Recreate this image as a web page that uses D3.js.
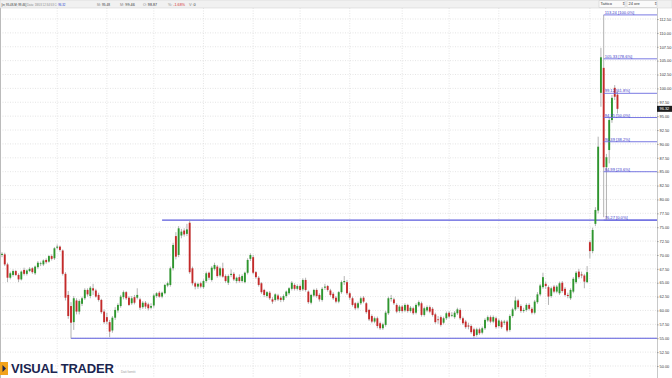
<!DOCTYPE html>
<html lang="it">
<head>
<meta charset="UTF-8">
<title>Visual Trader</title>
<script src="https://cdn.jsdelivr.net/npm/d3@7"></script>
<style>
    body { margin: 0; background: #fff; }
    svg { display: block; font-family: "Liberation Sans", Arial, sans-serif; }
    .axis path { stroke: #c8c8c8; }
    .axis line { stroke: #999; }
    .axis text { font-size: 3.9px; fill: #333; }
</style>
</head>
<body>
<script>
// daily candles
const opens = [
70.0,70.1,68.3,65.9,66.4,67.1,66.4,65.6,67.3,66.6,
67.1,67.6,66.7,67.8,68.4,68.3,69.1,68.8,69.8,69.4,
71.3,71.5,70.8,66.6,62.8,60.8,57.9,61.8,59.8,61.2,
62.2,63.7,62.6,64.0,63.6,62.8,61.9,59.8,58.8,57.9,
56.4,58.7,60.0,60.8,62.4,63.3,62.3,61.3,62.4,62.3,
62.0,60.6,61.4,61.1,60.5,60.9,62.6,63.2,62.5,63.1,
64.5,64.6,67.6,73.4,70.0,73.5,74.4,73.8,75.8,67.6,
64.9,64.3,64.9,64.2,65.3,66.8,65.5,67.5,67.9,66.3,
67.6,66.2,65.0,66.4,66.6,65.3,66.0,65.3,65.1,66.8,
69.3,69.6,66.9,65.9,64.9,63.7,62.6,63.2,62.0,61.9,
62.7,62.3,61.9,62.6,63.1,63.9,64.6,63.9,64.4,63.8,
65.5,63.4,61.4,62.7,63.7,62.8,61.9,64.1,64.4,63.6,
63.0,62.3,61.6,63.3,65.1,65.1,63.1,62.2,61.3,60.5,
61.3,62.3,61.3,60.1,59.0,58.0,58.6,57.7,56.8,57.4,
59.5,62.1,62.0,61.0,59.9,60.7,60.0,61.0,59.9,60.4,
59.6,60.9,61.3,59.2,60.0,60.6,60.3,59.3,58.4,58.8,
57.8,58.6,59.6,59.1,58.8,59.5,60.1,58.6,58.0,57.3,
57.2,56.6,55.6,56.6,56.0,56.8,58.2,58.8,58.0,58.6,
57.2,58.0,57.8,58.0,56.5,59.0,60.2,61.8,60.8,59.9,
60.1,61.0,60.3,59.6,61.5,62.9,64.2,64.8,64.2,62.6,
64.3,63.4,63.1,65.0,63.9,62.8,62.2,63.4,65.1,67.0,
66.5,66.3,65.1,72.3,70.7,75.6,78.0,99.2,103.7,85.8,
88.9,94.3,100.1,98.87
];
const highs = [
70.5,70.4,68.6,67.0,67.4,67.3,66.7,67.2,67.7,67.4,
67.8,67.8,68.1,68.9,68.8,69.2,69.4,70.0,70.1,71.4,
71.9,71.7,71.0,66.9,63.5,61.5,62.6,62.2,62.0,62.5,
64.0,64.0,64.4,64.8,63.9,63.2,62.1,60.2,59.6,58.3,
59.0,60.6,61.3,62.8,63.6,63.5,62.6,62.6,62.8,64.0,
62.3,61.7,61.7,61.4,61.3,63.0,63.3,63.5,63.4,64.8,
65.2,67.9,72.2,74.1,75.2,74.7,74.8,75.6,76.3,67.9,
65.2,65.0,65.2,65.6,67.0,67.0,68.0,68.6,68.2,67.9,
68.6,66.5,66.5,67.4,66.9,66.1,66.5,66.5,67.0,69.4,
70.3,70.0,67.1,66.2,65.1,63.9,63.5,63.5,62.4,63.1,
63.0,62.6,62.9,63.6,64.2,65.3,64.9,64.7,64.7,65.8,
65.9,63.6,63.0,63.9,64.0,63.1,64.2,64.8,64.6,63.9,
63.3,62.6,63.5,65.4,66.2,65.5,63.4,62.5,61.5,61.6,
62.5,62.6,61.5,60.3,59.3,58.9,58.9,58.0,57.8,59.9,
62.5,62.8,62.3,61.3,61.0,61.0,61.3,61.2,60.8,60.7,
61.3,61.8,61.6,60.7,60.9,60.9,60.6,59.6,59.0,59.1,
58.9,59.8,59.9,59.7,59.9,60.5,60.4,58.9,58.3,57.8,
57.5,56.9,56.9,56.9,57.1,58.6,59.1,59.1,59.1,58.9,
58.5,58.3,58.3,58.3,59.3,60.5,62.5,62.1,61.1,60.5,
61.3,61.3,60.6,61.9,63.3,64.8,66.8,65.2,64.5,64.3,
64.6,64.6,65.2,65.3,64.2,63.2,64.0,66.0,67.1,67.5,
67.0,66.6,68.0,72.6,74.9,78.6,91.3,107.3,113.24,88.2,
94.8,98.8,100.6,99.46
];
const lows = [
69.6,68.0,65.1,65.6,66.1,66.2,65.1,65.4,66.3,66.3,
66.9,66.6,66.4,67.5,68.0,68.0,68.4,68.6,69.0,69.1,
71.0,70.6,66.3,61.8,58.5,55.0,56.5,59.3,59.3,60.8,
61.9,62.5,62.2,62.8,62.3,61.6,59.4,57.6,57.5,55.2,
56.0,58.3,59.6,60.5,62.0,61.9,60.8,61.0,61.1,62.0,
60.1,60.3,60.3,60.0,60.2,60.5,62.3,62.3,62.2,62.9,
64.2,64.3,67.2,69.2,69.6,73.0,73.3,73.4,66.6,64.5,
63.8,63.9,64.0,63.9,65.0,65.5,65.2,67.2,65.9,66.0,
65.9,65.0,64.6,66.0,65.3,64.9,65.0,65.0,64.9,66.5,
68.9,66.5,65.7,64.3,63.0,62.4,62.3,61.9,61.2,61.6,
61.7,61.5,61.6,62.3,62.8,63.6,63.6,63.6,63.4,63.5,
63.4,61.2,61.1,62.4,62.3,61.6,61.6,63.7,63.4,62.5,
61.9,61.3,61.3,63.0,64.6,62.8,61.9,60.7,60.1,60.2,
61.0,61.3,59.4,58.1,57.7,57.7,56.8,56.5,56.5,57.1,
59.2,61.6,61.0,59.5,59.6,59.6,59.7,59.6,59.6,59.2,
59.3,60.6,58.9,58.9,59.7,59.5,58.9,57.6,57.6,57.1,
57.5,58.3,58.6,58.8,58.5,59.2,58.3,57.4,56.7,56.6,
55.8,55.0,55.3,55.6,55.7,56.5,57.9,57.7,57.7,56.7,
56.9,56.7,57.4,56.1,56.2,58.7,59.9,60.3,59.6,59.6,
59.8,60.0,59.3,59.3,61.2,62.6,63.9,63.9,61.0,62.3,
63.1,63.1,62.8,63.2,62.5,62.2,61.9,63.1,64.8,65.7,
65.8,64.0,64.9,69.4,70.3,75.2,77.5,96.7,76.8,76.27,
86.5,93.8,97.9,95.48
];
const closes = [
70.2,68.3,65.9,66.7,67.1,66.4,65.6,67.0,66.6,67.2,
67.5,66.9,67.9,68.6,68.5,69.0,68.7,69.8,69.3,71.2,
71.5,70.9,66.6,62.3,59.0,57.8,62.2,59.8,61.7,62.2,
63.7,62.9,64.1,63.6,62.5,61.9,59.7,57.9,58.0,56.2,
58.7,60.1,61.0,62.5,63.3,62.2,61.0,62.2,61.4,62.8,
60.5,61.4,60.7,60.4,60.8,62.7,63.1,62.5,63.2,64.6,
64.9,67.6,71.8,69.7,74.8,74.2,73.7,74.6,66.9,64.9,
64.3,64.8,64.3,65.3,66.7,65.9,67.7,68.2,66.2,67.6,
66.1,65.3,66.2,66.6,65.6,65.9,65.3,66.2,66.8,69.1,
70.0,66.8,66.0,64.6,63.3,62.8,63.3,62.2,61.6,62.9,
62.0,61.9,62.6,63.4,64.0,65.0,63.9,64.4,63.7,65.5,
63.7,61.5,62.8,63.7,62.6,62.0,63.9,64.3,63.7,62.8,
62.2,61.6,63.3,65.1,65.3,63.1,62.3,61.0,60.4,61.3,
62.2,61.6,59.7,58.4,58.0,58.6,57.2,56.8,57.5,59.6,
62.2,62.2,61.3,59.8,60.7,59.9,61.0,59.9,60.5,59.5,
61.0,61.5,59.2,60.4,60.6,59.8,59.2,57.9,58.3,57.4,
58.6,59.5,58.9,59.2,59.6,60.2,58.6,57.7,57.0,57.1,
56.1,55.4,56.6,55.9,56.8,58.3,58.8,58.0,58.8,57.0,
58.2,57.0,58.0,56.4,59.0,60.2,61.8,60.6,59.9,60.1,
61.0,60.3,59.6,61.6,62.9,64.5,66.0,64.4,62.5,64.0,
63.4,64.3,64.9,63.5,62.8,62.6,63.7,65.7,66.8,66.0,
66.3,65.2,66.9,70.7,74.5,78.1,89.5,105.6,85.8,87.6,
94.3,98.3,98.5,96.32
];

// candle index where the month separators fall
const monthBreaks = [20, 38, 55, 73, 91, 108, 126, 145, 162, 180, 197, 213];
// price axis ticks
const priceTicks = d3.range(50, 112.51, 2.5);
// fibonacci tool anchors
const fibHigh = 113.24, fibLow = 76.27, fibFrom = 218;
const fibRatios = [1, 0.786, 0.618, 0.5, 0.382, 0.236, 0];
// horizontal support / resistance lines: level and starting candle
const hLevels = [76.27, 55.0];
const hStarts = [58, 25];
const lastPrice = 96.32;

const W = 672, H = 378;
const plotRight = 657, plotTop = 8;
const n = closes.length;
const step = 2.76;
const x0 = 2 - step / 2;

const svg = d3.select("body").append("svg").attr("width", W).attr("height", H);

const xScale = d3.scaleBand()
    .domain(d3.range(n))
    .range([x0, x0 + n * step])
    .paddingInner(0.32)
    .paddingOuter(0.16);
const cx = i => xScale(i) + xScale.bandwidth() / 2;

const yScale = d3.scaleLinear().domain([50, 112.5]).range([366, 19]);

// grid
svg.append("g").selectAll("line").data(priceTicks).enter().append("line")
    .attr("x1", 0).attr("x2", plotRight)
    .attr("y1", d => yScale(d)).attr("y2", d => yScale(d))
    .attr("stroke", "#d4d4d4").attr("stroke-width", 0.6).attr("stroke-dasharray", "1,1.5");
svg.append("g").selectAll("line").data(monthBreaks).enter().append("line")
    .attr("x1", d => cx(d)).attr("x2", d => cx(d))
    .attr("y1", plotTop).attr("y2", H)
    .attr("stroke", "#d4d4d4").attr("stroke-width", 0.6).attr("stroke-dasharray", "1,1.5");

svg.append("line").attr("x1", 0.5).attr("x2", 0.5).attr("y1", plotTop).attr("y2", H)
    .attr("stroke", "#bbb");

// long horizontal lines
svg.append("g").selectAll("line").data(hLevels).enter().append("line")
    .attr("x1", (d, i) => cx(hStarts[i])).attr("x2", plotRight)
    .attr("y1", d => yScale(d)).attr("y2", d => yScale(d))
    .attr("stroke", "#5b5bdc").attr("stroke-width", 1.2);

// candles
const idx = d3.range(n);
svg.append("g").selectAll("line").data(idx).enter().append("line")
    .attr("x1", i => cx(i)).attr("x2", i => cx(i))
    .attr("y1", i => yScale(highs[i])).attr("y2", i => yScale(lows[i]))
    .attr("stroke", "#a0a0a0").attr("stroke-width", 0.8);
svg.append("g").selectAll("rect").data(idx).enter().append("rect")
    .attr("x", i => xScale(i))
    .attr("width", xScale.bandwidth())
    .attr("y", i => yScale(Math.max(opens[i], closes[i])))
    .attr("height", i => Math.max(0.8, Math.abs(yScale(opens[i]) - yScale(closes[i]))))
    .attr("fill", i => closes[i] >= opens[i] ? "#2e962e" : "#c42a2a");

// fibonacci levels
const fib = fibRatios.map(r => ({ r: r, v: fibLow + r * (fibHigh - fibLow) }));
const fg = svg.append("g");
fg.selectAll("line").data(fib).enter().append("line")
    .attr("x1", cx(fibFrom)).attr("x2", plotRight)
    .attr("y1", d => yScale(d.v)).attr("y2", d => yScale(d.v))
    .attr("stroke", "#6b6be0").attr("stroke-width", 0.9);
fg.selectAll("text").data(fib).enter().append("text")
    .attr("x", cx(fibFrom) + 1).attr("y", d => yScale(d.v) - 0.8)
    .attr("font-size", 4.1).attr("fill", "#3c3cc8")
    .text(d => d.v.toFixed(2) + " [" + (d.r * 100).toFixed(1) + "%]");

// right price axis
svg.append("rect").attr("x", plotRight).attr("y", plotTop).attr("width", W - plotRight).attr("height", H - plotTop)
    .attr("fill", "#fff");
svg.append("g").attr("class", "axis")
    .attr("transform", "translate(" + plotRight + ",0)")
    .call(d3.axisRight(yScale).tickValues(priceTicks).tickSize(1.5).tickPadding(1).tickFormat(d3.format(".2f")))
    .call(g => g.select(".domain").attr("d", "M0.5," + plotTop + "V" + H));

// last price tag
svg.append("rect").attr("x", plotRight).attr("y", yScale(lastPrice) - 3)
    .attr("width", W - plotRight).attr("height", 6).attr("fill", "#1e1e1e");
svg.append("text").attr("x", plotRight + 2.5).attr("y", yScale(lastPrice) + 1.4)
    .attr("font-size", 3.9).attr("fill", "#fff").text(lastPrice.toFixed(2));

// top info bar: each group is one text squeezed horizontally to its slot
svg.append("rect").attr("x", 0).attr("y", 0).attr("width", W).attr("height", plotTop)
    .attr("fill", "#f1f1f1").attr("stroke", "#cfcfcf").attr("stroke-width", 0.5);
const info = [
    { x: 1.5, w: 64, parts: [["[in; 95.48-M; 99.46] ", "#333"], ["Data: 18/03 12:34:53 C: ", "#888"], ["96.32", "#2a3fd0"]] },
    { x: 97, w: 13, parts: [["Mi: ", "#888"], ["95.48", "#333"]] },
    { x: 120, w: 15, parts: [["M: ", "#888"], ["99.46", "#333"]] },
    { x: 143, w: 14, parts: [["O: ", "#888"], ["98.87", "#333"]] },
    { x: 168, w: 17, parts: [["%: ", "#888"], ["-1.68%", "#d23030"]] },
    { x: 189, w: 7, parts: [["V: ", "#888"], ["0", "#333"]] }
];
const it = svg.append("g").selectAll("text").data(info).enter().append("text")
    .attr("x", 0).attr("y", 0).attr("font-size", 3.8);
it.selectAll("tspan").data(d => d.parts).enter().append("tspan")
    .attr("fill", p => p[1]).text(p => p[0]);
it.each(function (d) {
    const natural = this.getComputedTextLength();
    const sx = Math.min(1, d.w / natural);
    d3.select(this).attr("transform", "translate(" + d.x + ",5.5) scale(" + sx + ",1)");
});

const menus = [{ x: 599, w: 26, t: "Tattico" }, { x: 627, w: 30, t: "24 ore" }];
const mg = svg.append("g").selectAll("g").data(menus).enter().append("g");
mg.append("rect").attr("x", d => d.x).attr("y", 0.8).attr("width", d => d.w).attr("height", 6.4)
    .attr("fill", "#fafafa").attr("stroke", "#bdbdbd").attr("stroke-width", 0.4);
mg.append("text").attr("x", d => d.x + 1.5).attr("y", 5.4).attr("font-size", 4).attr("fill", "#333").text(d => d.t);
mg.append("text").attr("x", d => d.x + d.w - 3.5).attr("y", 5.4).attr("font-size", 4).attr("fill", "#555").text("\u21D5");

// logo
svg.append("rect").attr("x", 0).attr("y", 362).attr("width", 8).attr("height", 13).attr("fill", "#f2a31b");
svg.append("path").attr("d", "M2.5,365 L6,368.5 L2.5,372 Z").attr("fill", "#1b2550");
svg.append("text").attr("x", 11).attr("y", 372.5)
    .attr("font-size", 13).attr("font-weight", "bold").attr("fill", "#1b2550")
    .attr("letter-spacing", "-0.2").text("VISUAL TRADER");
svg.append("text").attr("x", 121).attr("y", 373).attr("font-size", 3.2).attr("fill", "#999").text("Dati forniti");
</script>
</body>
</html>
